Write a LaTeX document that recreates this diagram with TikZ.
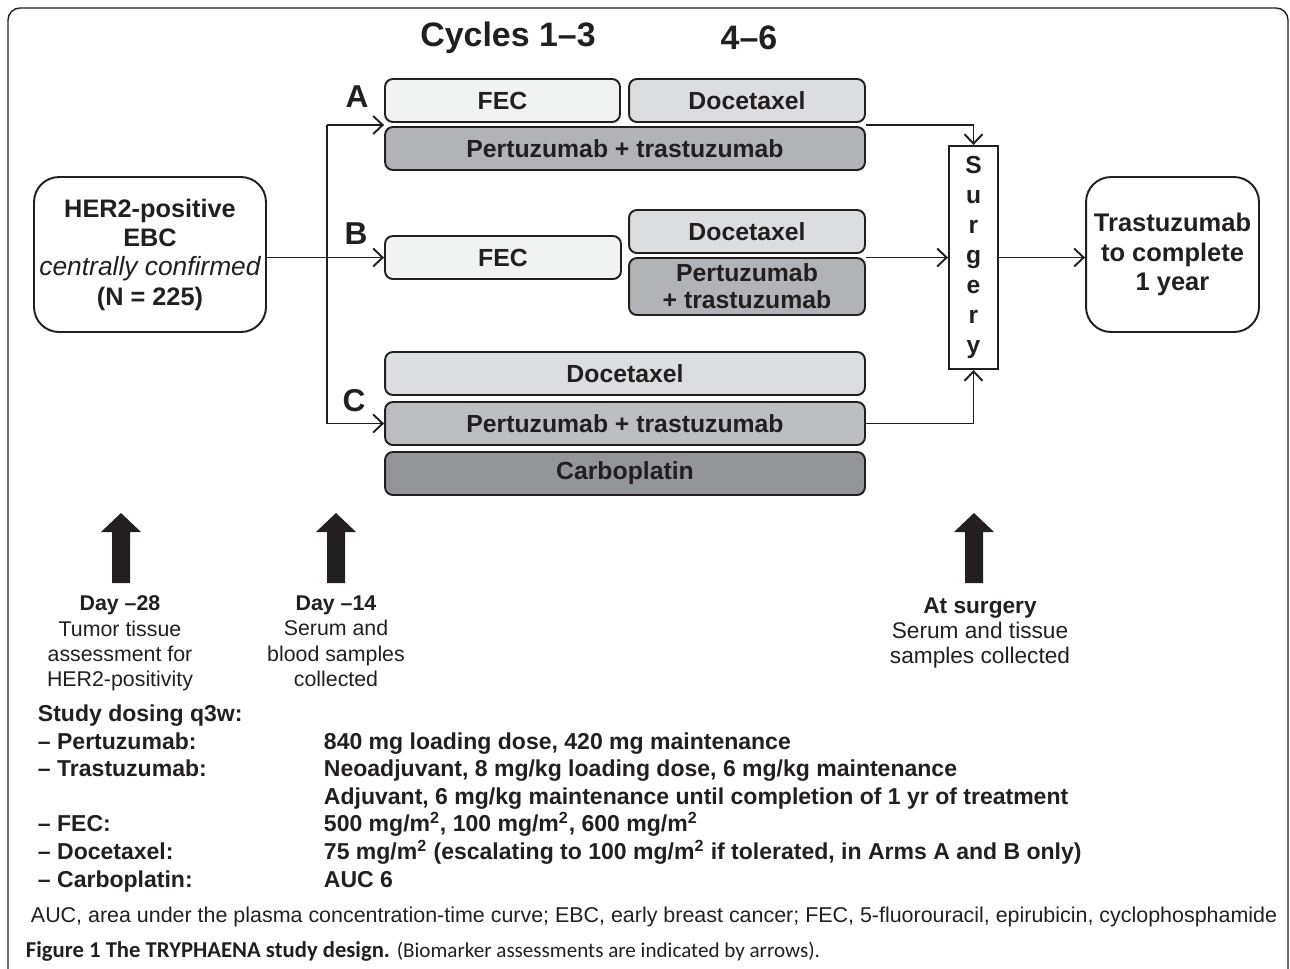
\documentclass[tikz,border=0pt]{standalone}
\usepackage{fontspec}
\setmainfont{Liberation Sans}
\newfontfamily\capfont{Carlito}
\usepackage{xcolor}
\usetikzlibrary{arrows.meta}
\definecolor{ink}{HTML}{231F20}
\definecolor{pale}{HTML}{F1F2F2}
\definecolor{light}{HTML}{DCDDDE}
\definecolor{mid}{HTML}{BCBEC0}
\definecolor{dark}{HTML}{B1B3B6}
\definecolor{deep}{HTML}{939598}

\begin{document}
\begin{tikzpicture}[x=0.02cm,y=-0.02cm,
	box/.style={draw=ink,line width=1.1pt,rounded corners=4.5pt,inner sep=0pt,text=ink,
		minimum height=0.86cm,font=\fontsize{14.1}{14}\selectfont\bfseries},
	lbl/.style={text=ink,inner sep=0pt,font=\fontsize{18}{18}\selectfont\bfseries},
	info/.style={text=ink,inner sep=0pt,align=center,anchor=north,font=\fontsize{12.15}{14.4}\selectfont},
	dose/.style={text=ink,inner sep=0pt,anchor=base west,font=\fontsize{13.1}{13}\selectfont\bfseries},
	>={Straight Barb[length=1.9mm,width=3.6mm]}, line width=1.1pt, ink]
	\useasboundingbox (0,0) rectangle (1290,968);
	\draw[line width=0.8pt,rounded corners=0.24cm] (8,990) -- (8,8) -- (1288,8) -- (1288,990);

	\node[lbl,font=\fontsize{19.3}{19}\selectfont\bfseries] (c13) at (508,38) {Cycles 1--3};
	\node[lbl,font=\fontsize{19.3}{19}\selectfont\bfseries] (c46) at (749,38) {4--6};

	% arm A
	\node[box,fill=pale,minimum width=4.7cm] (feca) at (502.5,100.5) {FEC};
	\node[box,fill=light,minimum width=4.72cm] (doca) at (747,100.5) {Docetaxel};
	\node[box,fill=dark,minimum width=9.6cm] (pta) at (625,148.5) {Pertuzumab + trastuzumab};
	\node[lbl] (la) at (357,97) {A};
	% arm B
	\node[box,fill=pale,minimum width=4.72cm] (fecb) at (503,257.5) {FEC};
	\node[box,fill=light,minimum width=4.72cm] (docb) at (747,231.5) {Docetaxel};
	\node[box,fill=dark,minimum width=4.72cm,minimum height=1.14cm,align=center,
		font=\fontsize{14.1}{15.4}\selectfont\bfseries] (ptb) at (747,286.5) {Pertuzumab\\+ trastuzumab};
	\node[lbl] (lb) at (356,234) {B};
	% arm C
	\node[box,fill=light,minimum width=9.6cm] (docc) at (625,373.5) {Docetaxel};
	\node[box,fill=mid,minimum width=9.6cm] (ptc) at (625,423.5) {Pertuzumab + trastuzumab};
	\node[box,fill=deep,minimum width=9.6cm] (carc) at (625,473.5) {Carboplatin};
	\node[lbl] (lc) at (354,401) {C};

	\node[box,rounded corners=0.5cm,fill=white,minimum width=4.64cm,minimum height=3.1cm,align=center,
		font=\fontsize{14.4}{16.7}\selectfont\bfseries] (her) at (150,254.5)
		{HER2-positive\\EBC\\\normalfont\fontsize{15}{16.7}\selectfont\itshape centrally confirmed\\(N = 225)};
	\node[box,rounded corners=0.5cm,fill=white,minimum width=3.46cm,minimum height=3.1cm,align=center,
		font=\fontsize{14.5}{16.7}\selectfont\bfseries] (tras) at (1172.5,254.5)
		{Trastuzumab\\to complete\\1 year};
	\node[box,rounded corners=0pt,fill=white,minimum width=0.98cm,minimum height=4.46cm,align=center,
		font=\fontsize{14}{17}\selectfont\bfseries] (surg) at (973.5,257.5) {S\\u\\r\\g\\e\\r\\y};

	% connectors
	\coordinate (ja) at (327,125);
	\draw (ja) -- (ja |- ptc.west);
	\draw[->] (ja) -- (ja -| pta.west);
	\draw[->] (ja |- ptc.west) -- (ptc.west);
	\draw[->] (her.east |- fecb.west) -- (fecb.west);
	\draw[->] (ja -| pta.east) -| (surg.north);
	\draw[->] (ptb.east |- surg.west) -- (surg.west);
	\draw[->] (ptc.east) -| (surg.south);
	\draw[->] (surg.east) -- (surg.east -| tras.west);

	% biomarker arrows
	\foreach \x in {121,336,974}
		\fill (\x-9,583) -- (\x-9,532) -- (\x-20,532) -- (\x,513) -- (\x+20,532) -- (\x+9,532) -- (\x+9,583) -- cycle;
	\node[info] (d28) at (120,595) {\textbf{Day --28}\\Tumor tissue\\assessment for\\HER2-positivity};
	\node[info] (d14) at (336,595) {\textbf{Day --14}\\Serum and\\blood samples\\collected};
	\node[info,font=\fontsize{12.9}{14.2}\selectfont] (dsu) at (980,597) {\textbf{At surgery}\\Serum and tissue\\samples collected};

	% dosing
	\node[dose] (sd) at (37,721) {Study dosing q3w:};
	\node[dose] (np) at (37,749) {-- Pertuzumab:};
	\node[dose] (nt) at (37,776) {-- Trastuzumab:};
	\node[dose] (nf) at (37,831) {-- FEC:};
	\node[dose] (nd) at (37,859) {-- Docetaxel:};
	\node[dose] (nc) at (37,887) {-- Carboplatin:};
	\node[dose] (vp) at (323,749) {840 mg loading dose, 420 mg maintenance};
	\node[dose] (vt) at (323,776) {Neoadjuvant, 8 mg/kg loading dose, 6 mg/kg maintenance};
	\node[dose] (va) at (323,804) {Adjuvant, 6 mg/kg maintenance until completion of 1 yr of treatment};
	\node[dose] (vf) at (323,831) {500 mg/m\textsuperscript{2}, 100 mg/m\textsuperscript{2}, 600 mg/m\textsuperscript{2}};
	\node[dose] (vd) at (323,859) {75 mg/m\textsuperscript{2} (escalating to 100 mg/m\textsuperscript{2} if tolerated, in Arms A and B only)};
	\node[dose] (vc) at (323,887) {AUC 6};

	\node[dose,font=\fontsize{12.2}{13}\selectfont] (abbr) at (30,922)
		{AUC, area under the plasma concentration-time curve; EBC, early breast cancer; FEC, 5-fluorouracil, epirubicin, cyclophosphamide};
	\node[dose,font=\capfont\fontsize{12.9}{13}\selectfont] (cap) at (25,957)
		{\textbf{Figure 1 The TRYPHAENA study design.} {\fontsize{12}{13}\selectfont(Biomarker assessments are indicated by arrows).}};
\end{tikzpicture}
\end{document}
